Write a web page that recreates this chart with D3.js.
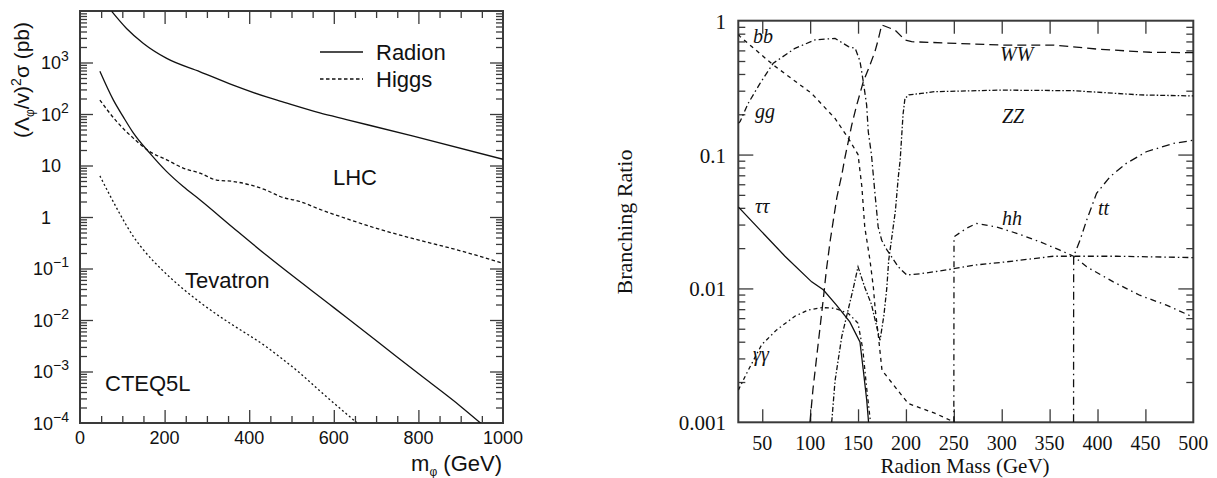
<!DOCTYPE html>
<html><head><meta charset="utf-8">
<script src="https://cdn.jsdelivr.net/npm/d3@7"></script>
<style>
body{margin:0;background:#fff;}
svg{display:block;}
.sans{font-family:"Liberation Sans",Arial,Helvetica,sans-serif;}
.serif{font-family:"Liberation Serif","Times New Roman",serif;}
</style></head><body>
<svg id="c" width="1217" height="478"></svg>
<script>
// ---------------- LEFT PANEL DATA (cross sections, pb) ----------------
const lhcRadionMass = [75,110,150,205,284,362,441,473,567,630,788,1000];
const lhcRadionXsec = [9800,4570,2340,1200,660,363,214,178,105,78,37,13.2];
const lhcHiggsMass = [47,87,126,165,205,244,284,323,362,402,441,473,520,567,630,701,788,900,1000];
const lhcHiggsXsec = [186,71,34,18.6,12.9,8.9,7.1,5.2,4.9,4.2,3.3,2.5,2.0,1.41,0.93,0.60,0.38,0.22,0.126];
const tevRadionMass = [47,79,102,126,165,205,244,284,362,441,600,700,800,900,950];
const tevRadionXsec = [676,186,89,43,17.4,7.6,3.9,2.14,0.62,0.18,0.0174,0.004,9.1e-4,2.1e-4,0.95e-4];
const tevHiggsMass = [47,71,95,110,126,150,197,244,284,339,362,441,473,520,567,654];
const tevHiggsXsec = [6.3,2.6,1.12,0.68,0.42,0.23,0.089,0.040,0.022,0.0105,0.0079,0.0030,0.0019,9.3e-4,4.2e-4,1.02e-4];
const leftXTicks = [0,200,400,600,800,1000];
const leftXMinor = [50,100,150,250,300,350,450,500,550,650,700,750,850,900,950];
const leftYExp = [-4,-3,-2,-1,0,1,2,3];
const legendNames = ["Radion","Higgs"];

// ---------------- RIGHT PANEL DATA (branching ratios) ----------------
const bbMass = [25,27,61.5,101.6,126,140,150,154,157,162.5,166,168,171,175,188.6,202.5,230,251];
const bbBR = [0.79,0.76,0.467,0.286,0.186,0.132,0.100,0.0575,0.0288,0.0162,0.0102,0.0069,0.00457,0.00245,0.00184,0.00138,0.00117,0.001];
const ggMass = [25,26.8,35.4,47.7,61.5,84.2,105,126,140,147,152,155.5,159,160.7,164,167.7,171,174.7,180,192,200.8,216,244,270,305,333,354,375,420,500];
const ggBR = [0.171,0.176,0.242,0.340,0.481,0.622,0.718,0.738,0.640,0.622,0.50,0.35,0.234,0.148,0.10,0.051,0.0288,0.0229,0.0195,0.0145,0.0126,0.0129,0.0138,0.0149,0.0158,0.0167,0.0174,0.0174,0.0174,0.0170];
const tautauMass = [25,45.9,73.7,101.6,113.7,127.5,141.4,152,155.5,159,161];
const tautauBR = [0.0407,0.0282,0.0174,0.0112,0.00977,0.0075,0.00562,0.00398,0.00245,0.00148,0.001];
const gamgamMass = [25,35.4,49.4,65,84,98,112,126,140,150,155,159,163];
const gamgamBR = [0.00174,0.00245,0.0038,0.0049,0.0062,0.0069,0.0072,0.0071,0.0065,0.0055,0.0035,0.0018,0.001];
const wwMass = [99.8,103,107,111,114,117,121,128,133,136.4,143.4,148.6,155.5,162.5,167.7,171,174.7,188.6,199,206,298,354,402.5,455,500];
const wwBR = [0.001,0.00178,0.00316,0.00562,0.0087,0.0138,0.0229,0.0484,0.0703,0.0955,0.166,0.234,0.350,0.467,0.589,0.718,0.93,0.851,0.718,0.697,0.658,0.658,0.611,0.581,0.577];
const zzMass = [122.5,126,133,141.6,145,150,157,164,170,173,177,180,182,189,192,194,197,199,203,216,230,298,375,445,500];
const zzBR = [0.001,0.00204,0.00437,0.0079,0.010,0.0145,0.0102,0.0076,0.0050,0.0041,0.0063,0.010,0.0162,0.038,0.0676,0.0912,0.20,0.263,0.279,0.286,0.295,0.303,0.300,0.279,0.274];
const hhMass = [250,250.2,263.4,273.8,294.7,315.6,340,360.8,375,388.7,416.5,444,472,500];
const hhBR = [0.001,0.0243,0.0282,0.0306,0.0288,0.0258,0.0223,0.0193,0.0174,0.0145,0.0112,0.0089,0.0075,0.0061];
const ttMass = [375,375.1,381.7,388.7,399,413,430,451,479,500];
const ttBR = [0.001,0.0174,0.0229,0.0324,0.0513,0.0682,0.0859,0.105,0.121,0.128];
const rightXTicks = [50,100,150,200,250,300,350,400,450,500];
const rightYTicks = [0.001,0.01,0.1,1];
const rightYLabels = ["0.001","0.01","0.1","1"];

const svg = d3.select("#c");
const INK = "#111";
const FRAME = "#3a3a3a";

function zip(a,b){ return a.map((v,i)=>[v,b[i]]); }
function logMinor(lo,hi){ const r=[]; for(let e=lo;e<hi;e++) for(let k=2;k<=9;k++) r.push(k*Math.pow(10,e)); return r; }
function tickAxis(g, axisFn, scale, values, len, tr){
  g.append("g").attr("transform",tr)
   .call(axisFn(scale).tickValues(values).tickSize(-len).tickFormat(""))
   .call(s=>{ s.select(".domain").remove(); s.selectAll("line").attr("stroke",FRAME).attr("stroke-width",1.3); });
}

// ================= LEFT PANEL =================
const xL = d3.scaleLinear().domain([0,1000]).range([80,503]);
const yL = d3.scaleLog().domain([1e-4,1e4]).range([423,11]);
const L = svg.append("g");
L.append("clipPath").attr("id","clipL").append("rect")
  .attr("x",80).attr("y",11).attr("width",423).attr("height",412);

tickAxis(L, d3.axisBottom, xL, leftXTicks.slice(1,-1), 13, "translate(0,423)");
tickAxis(L, d3.axisBottom, xL, leftXMinor, 7, "translate(0,423)");
tickAxis(L, d3.axisTop, xL, leftXTicks.slice(1,-1), 13, "translate(0,11)");
tickAxis(L, d3.axisTop, xL, leftXMinor, 7, "translate(0,11)");
const majL = leftYExp.slice(1).map(e=>Math.pow(10,e));
tickAxis(L, d3.axisLeft, yL, majL, 13, "translate(80,0)");
tickAxis(L, d3.axisLeft, yL, logMinor(-4,4), 7, "translate(80,0)");
tickAxis(L, d3.axisRight, yL, majL, 13, "translate(503,0)");
tickAxis(L, d3.axisRight, yL, logMinor(-4,4), 7, "translate(503,0)");

L.append("rect").attr("x",80).attr("y",11).attr("width",423).attr("height",412)
  .attr("fill","none").attr("stroke",FRAME).attr("stroke-width",2);

L.selectAll(".xlabL").data(leftXTicks).join("text")
  .attr("class","sans").attr("x",d=>xL(d)).attr("y",444)
  .attr("text-anchor","middle").attr("font-size",18).attr("fill",INK).text(d=>d);
leftYExp.forEach(e=>{
  const t = L.append("text").attr("class","sans").attr("font-size",18).attr("fill",INK)
    .attr("x", e<0?33:41).attr("y", yL(Math.pow(10,e))+6.5);
  if(e===0) t.text("1");
  else if(e===1) t.text("10");
  else {
    t.append("tspan").text("10");
    t.append("tspan").attr("font-size",14).attr("dy",-8).text(e<0?("\u2212"+(-e)):String(e));
  }
});
const yt = L.append("text").attr("class","sans").attr("font-size",21).attr("fill",INK)
  .attr("text-anchor","middle").attr("transform","translate(29,80) rotate(-90)");
yt.append("tspan").text("(\u039B");
yt.append("tspan").attr("font-size",12).attr("dy",5).text("\u03C6");
yt.append("tspan").attr("dy",-5).text("/v)");
yt.append("tspan").attr("font-size",14).attr("dy",-8).text("2");
yt.append("tspan").attr("dy",8).text("\u03C3 (pb)");
const xt = L.append("text").attr("class","sans").attr("font-size",22).attr("fill",INK)
  .attr("text-anchor","end").attr("x",502).attr("y",471);
xt.append("tspan").text("m");
xt.append("tspan").attr("font-size",12).attr("dy",5).text("\u03C6");
xt.append("tspan").attr("dy",-5).text(" (GeV)");

const lineL = d3.line().x(d=>xL(d[0])).y(d=>yL(d[1])).curve(d3.curveMonotoneX);
const curvesL = [
  {d:zip(lhcRadionMass,lhcRadionXsec), dash:null},
  {d:zip(lhcHiggsMass,lhcHiggsXsec), dash:"3.5,2.5"},
  {d:zip(tevRadionMass,tevRadionXsec), dash:null},
  {d:zip(tevHiggsMass,tevHiggsXsec), dash:"2,2.5"}
];
L.append("g").attr("clip-path","url(#clipL)").selectAll("path").data(curvesL).join("path")
  .attr("d",c=>lineL(c.d)).attr("fill","none").attr("stroke",INK).attr("stroke-width",1.3)
  .attr("stroke-dasharray",c=>c.dash);

const legDash = [null,"3.5,2.5"];
legendNames.forEach((n,i)=>{
  const y = 52 + i*27;
  L.append("line").attr("x1",320).attr("x2",363).attr("y1",y).attr("y2",y)
    .attr("stroke",INK).attr("stroke-width",1.3).attr("stroke-dasharray",legDash[i]);
  L.append("text").attr("class","sans").attr("font-size",22).attr("fill",INK)
    .attr("x",376).attr("y",y+8).text(n);
});
[["LHC",333,185],["Tevatron",185,288],["CTEQ5L",105,391]].forEach(a=>{
  L.append("text").attr("class","sans").attr("font-size",22).attr("fill",INK)
    .attr("x",a[1]).attr("y",a[2]).text(a[0]);
});

// ================= RIGHT PANEL =================
const xR = d3.scaleLinear().domain([25,500]).range([738.3,1193.3]);
const yR = d3.scaleLog().domain([0.001,1]).range([422.3,20.7]);
const R = svg.append("g");
R.append("clipPath").attr("id","clipR").append("rect")
  .attr("x",738.3).attr("y",20.7).attr("width",455).attr("height",401.6);

tickAxis(R, d3.axisBottom, xR, rightXTicks.slice(0,-1), 13, "translate(0,422.3)");
tickAxis(R, d3.axisTop, xR, rightXTicks.slice(0,-1), 13, "translate(0,20.7)");
tickAxis(R, d3.axisLeft, yR, [0.01,0.1], 15, "translate(738.3,0)");
tickAxis(R, d3.axisLeft, yR, logMinor(-3,0), 7, "translate(738.3,0)");
tickAxis(R, d3.axisRight, yR, [0.01,0.1], 15, "translate(1193.3,0)");
tickAxis(R, d3.axisRight, yR, logMinor(-3,0), 7, "translate(1193.3,0)");
R.append("rect").attr("x",738.3).attr("y",20.7).attr("width",455).attr("height",401.6)
  .attr("fill","none").attr("stroke",FRAME).attr("stroke-width",2);

R.selectAll(".xlabR").data(rightXTicks).join("text")
  .attr("class","serif").attr("x",d=>xR(d)).attr("y",450)
  .attr("text-anchor","middle").attr("font-size",20).attr("fill",INK).text(d=>d);
R.selectAll(".ylabR").data(rightYTicks).join("text")
  .attr("class","serif").attr("x",726).attr("y",d=>yR(d)+8)
  .attr("text-anchor","end").attr("font-size",21).attr("fill",INK).text((d,i)=>rightYLabels[i]);
R.append("text").attr("class","serif").attr("font-size",21).attr("fill",INK)
  .attr("text-anchor","middle").attr("x",965).attr("y",473).text("Radion Mass (GeV)");
R.append("text").attr("class","serif").attr("font-size",22).attr("fill",INK)
  .attr("text-anchor","middle").attr("transform","translate(632,222) rotate(-90)").text("Branching Ratio");

const lineR = d3.line().x(d=>xR(d[0])).y(d=>yR(d[1]));
const curvesR = [
  {d:zip(bbMass,bbBR), dash:"4,4"},
  {d:zip(ggMass,ggBR), dash:"6,3,1.5,3"},
  {d:zip(tautauMass,tautauBR), dash:null},
  {d:zip(gamgamMass,gamgamBR), dash:"4,3,1.5,3"},
  {d:zip(wwMass,wwBR), dash:"9,5"},
  {d:zip(zzMass,zzBR), dash:"5,2,1.5,2"},
  {d:zip(hhMass,hhBR), dash:"6,4,1.5,4"},
  {d:zip(ttMass,ttBR), dash:"8,4,1.5,4"}
];
R.append("g").attr("clip-path","url(#clipR)").selectAll("path").data(curvesR).join("path")
  .attr("d",c=>lineR(c.d)).attr("fill","none").attr("stroke",INK).attr("stroke-width",1.3)
  .attr("stroke-dasharray",c=>c.dash);

[["bb",753,43],["gg",755,118],["\u03C4\u03C4",755,213],["\u03B3\u03B3",753,361],
 ["WW",1000,61],["ZZ",1002,123],["hh",1002,225],["tt",1098,215]].forEach(a=>{
  R.append("text").attr("class","serif").attr("font-style","italic").attr("font-size",20)
    .attr("fill",INK).attr("x",a[1]).attr("y",a[2]).text(a[0]);
});
</script>
</body></html>
